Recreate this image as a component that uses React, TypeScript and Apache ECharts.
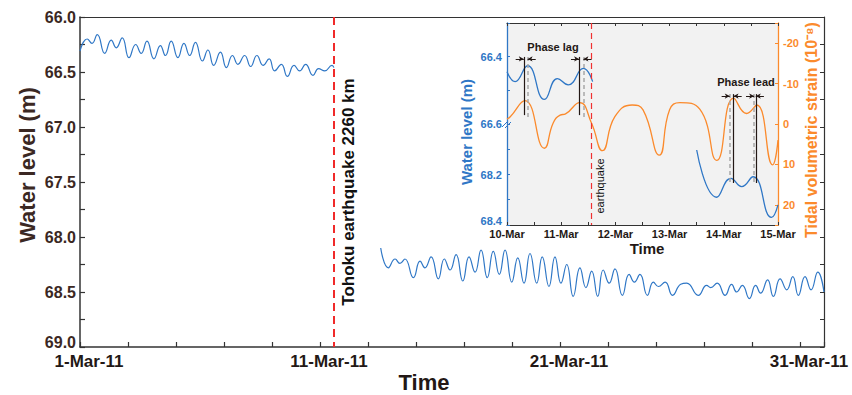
import React, { useEffect, useRef } from 'react';
import * as echarts from 'echarts';

// ---------- data (days since 1-Mar-2011 00:00) ----------
const EQ_DAY = 10.56; // Tohoku earthquake (local time)

const MAIN_LABEL_DAYS = [0, 10, 20, 30];
const MAIN_LABELS = ['1-Mar-11', '11-Mar-11', '21-Mar-11', '31-Mar-11'];
const MAIN_Y_LABELS = [66.0, 66.5, 67.0, 67.5, 68.0, 68.5, 69.0];

const INSET_LABEL_DAYS = [9, 10, 11, 12, 13, 14];
const INSET_LABELS = ['10-Mar', '11-Mar', '12-Mar', '13-Mar', '14-Mar', '15-Mar'];
const INSET_UPPER_LABELS = [66.4, 66.6];
const INSET_LOWER_LABELS = [68.2, 68.4];

const PRE_T = [0.0, 0.3, 0.5, 0.72, 1.03, 1.3, 1.51, 1.76, 2.04, 2.32, 2.55, 2.79, 3.08, 3.35, 3.56, 3.8, 4.08, 4.33, 4.57, 4.81, 5.1, 5.33, 5.57, 5.85, 6.1, 6.35, 6.58, 6.86, 7.11, 7.37, 7.63, 7.88, 8.11, 8.39, 8.64, 8.92, 9.15, 9.4, 9.71, 9.94, 10.2, 10.5, 10.58];
const PRE_WL = [66.31, 66.2, 66.24, 66.16, 66.33, 66.21, 66.28, 66.19, 66.37, 66.25, 66.33, 66.22, 66.38, 66.26, 66.35, 66.22, 66.37, 66.24, 66.35, 66.23, 66.4, 66.3, 66.44, 66.32, 66.46, 66.35, 66.43, 66.35, 66.45, 66.35, 66.44, 66.38, 66.49, 66.43, 66.54, 66.44, 66.49, 66.43, 66.53, 66.47, 66.49, 66.44, 66.46];

const POST_T = [12.53, 12.85, 13.13, 13.33, 13.54, 13.89, 14.17, 14.37, 14.63, 14.93, 15.18, 15.42, 15.67, 15.95, 16.21, 16.46, 16.71, 16.97, 17.22, 17.47, 17.71, 17.99, 18.24, 18.5, 18.75, 19.03, 19.26, 19.54, 19.79, 20.04, 20.28, 20.55, 20.83, 21.08, 21.32, 21.57, 21.8, 22.05, 22.29, 22.6, 22.88, 23.1, 23.33, 23.64, 23.89, 24.1, 24.38, 24.69, 25.03, 25.28, 25.76, 26.11, 26.28, 26.55, 26.88, 27.15, 27.36, 27.6, 27.89, 28.15, 28.36, 28.65, 28.89, 29.17, 29.45, 29.7, 29.93, 30.21, 30.46, 30.74, 31.0];
const POST_WL = [68.1, 68.28, 68.2, 68.24, 68.2, 68.37, 68.22, 68.28, 68.18, 68.38, 68.2, 68.3, 68.16, 68.4, 68.18, 68.32, 68.12, 68.37, 68.13, 68.34, 68.12, 68.41, 68.19, 68.42, 68.15, 68.42, 68.18, 68.45, 68.18, 68.42, 68.25, 68.54, 68.28, 68.46, 68.31, 68.54, 68.3, 68.42, 68.29, 68.53, 68.34, 68.41, 68.34, 68.53, 68.41, 68.45, 68.41, 68.53, 68.43, 68.42, 68.53, 68.44, 68.46, 68.42, 68.53, 68.43, 68.5, 68.44, 68.56, 68.44, 68.51, 68.39, 68.54, 68.38, 68.48, 68.36, 68.53, 68.36, 68.48, 68.32, 68.5];

// inset
const STRAIN_T = [9.0, 9.06, 9.33, 9.69, 9.85, 9.98, 10.08, 10.34, 10.56, 10.76, 10.99, 11.31, 11.51, 11.81, 12.0, 12.19, 12.56, 12.87, 13.18, 13.42, 13.61, 13.9, 14.0];
const STRAIN = [-1.2, -1.8, -5.8, 6.0, -0.2, -2.2, -2.5, -5.3, -0.2, 6.6, -1.8, -4.7, -3.5, 7.7, -3.5, -5.3, -3.6, 9.0, -6.4, -2.6, -4.7, 10.1, 4.0];
const INSET_PRE_T = [9.0, 9.15, 9.38, 9.69, 9.93, 10.13, 10.41, 10.58];
const INSET_PRE_WL = [66.445, 66.474, 66.427, 66.527, 66.465, 66.484, 66.435, 66.474];
const INSET_POST_T = [12.5, 12.87, 13.13, 13.33, 13.54, 13.88, 14.0];
const INSET_POST_WL = [68.103, 68.29, 68.215, 68.248, 68.209, 68.37, 68.32];

// phase annotations (day, strain-axis span)
const LAG_STRAIN_PEAKS = [9.31, 10.33];
const LAG_WATER_PEAKS = [9.38, 10.41];
const LEAD_WATER_PEAKS = [13.11, 13.56];
const LEAD_STRAIN_PEAKS = [13.18, 13.59];

const FONT = "'Liberation Sans', Arial, sans-serif";
const BLUE = '#2f77c6';
const ORANGE = '#fb8a2c';
const DARK = '#231815';
const BROWN = '#3b2823';
const AXIS = '#333333';

const zip = (a: number[], b: number[]) => a.map((v, i) => [v, b[i]]);
const near = (v: number, arr: number[]) => arr.findIndex((a) => Math.abs(a - v) < 1e-6);

function vline(x: number, y1: number, y2: number, color: string, type: any, width: number) {
  return [
    { coord: [x, y1], symbol: 'none', lineStyle: { color, type, width } },
    { coord: [x, y2], symbol: 'none' },
  ];
}
function arrow(from: number, to: number, y: number) {
  return [
    { coord: [from, y], symbol: 'none', lineStyle: { color: DARK, type: 'solid', width: 1 } },
    { coord: [to, y], symbol: 'arrow', symbolSize: [4, 5] },
  ];
}

export default function App() {
  const ref = useRef<HTMLDivElement>(null);
  useEffect(() => {
    if (!ref.current) return;
    const chart = echarts.init(ref.current, undefined, { renderer: 'svg' });

    const annot: any[] = [];
    LAG_STRAIN_PEAKS.forEach((x, i) => {
      const w = LAG_WATER_PEAKS[i];
      annot.push(vline(x, -16.6, -2.2, DARK, 'solid', 1.2));
      annot.push(vline(w, -16.6, -1, '#a8a8a8', [4, 3], 1.5));
      annot.push(arrow(x - 0.15, x, -16.1));
      annot.push(arrow(w + 0.15, w, -16.1));
    });
    LEAD_STRAIN_PEAKS.forEach((x, i) => {
      const w = LEAD_WATER_PEAKS[i];
      annot.push(vline(x, -7.4, 14.6, DARK, 'solid', 1.2));
      annot.push(vline(w, -7.4, 15.1, '#a8a8a8', [4, 3], 1.5));
      annot.push(arrow(w - 0.15, w, -6.9));
      annot.push(arrow(x + 0.15, x, -6.9));
    });

    const lineCommon = { type: 'line', smooth: 0.5, symbol: 'none', showSymbol: false, silent: true };
    const txt = (text: string, x: number, y: number, size: number, color: string, bold = true, rot = 0) => ({
      type: 'text', x, y, rotation: rot, silent: true,
      style: { text, fill: color, fontSize: size, fontWeight: bold ? 'bold' : 'normal', fontFamily: FONT, align: 'center', verticalAlign: 'middle' },
    });
    const labelBase = { fontWeight: 'bold', fontFamily: FONT };

    chart.setOption({
      animation: false,
      backgroundColor: '#ffffff',
      grid: [
        { left: 80, top: 17, width: 744, height: 330 },
        { left: 507, top: 23, width: 271, height: 202, show: true, backgroundColor: '#f2f2f2', borderWidth: 0 },
        { left: 507, top: 23, width: 271, height: 101 },
        { left: 507, top: 124, width: 271, height: 101 },
      ],
      xAxis: [
        {
          gridIndex: 0, type: 'value', min: 0, max: 31, interval: 2,
          axisLine: { onZero: false, lineStyle: { color: AXIS, width: 1.5 } },
          axisTick: { inside: true, length: 5, lineStyle: { color: AXIS, width: 1.2 } },
          axisLabel: {
            formatter: (v: number) => { const i = near(v, MAIN_LABEL_DAYS); return i >= 0 ? MAIN_LABELS[i] : ''; },
            color: DARK, fontSize: 17, ...labelBase, margin: 6, padding: [0, 0, 0, 18],
          },
          splitLine: { show: false },
        },
        {
          gridIndex: 0, type: 'value', position: 'top', min: 0, max: 31,
          axisLine: { show: true, onZero: false, lineStyle: { color: AXIS, width: 1.2 } },
          axisTick: { show: false }, axisLabel: { show: false }, splitLine: { show: false },
        },
        {
          gridIndex: 1, type: 'value', min: 9, max: 14, interval: 0.5,
          axisLine: { onZero: false, lineStyle: { color: AXIS, width: 1.2 } },
          axisTick: { inside: true, length: 3, lineStyle: { color: AXIS } },
          axisLabel: {
            formatter: (v: number) => { const i = near(v, INSET_LABEL_DAYS); return i >= 0 ? INSET_LABELS[i] : ''; },
            color: DARK, fontSize: 11, ...labelBase, margin: 3,
          },
          splitLine: { show: false },
        },
        {
          gridIndex: 1, type: 'value', position: 'top', min: 9, max: 14, interval: 0.5,
          axisLine: { show: true, onZero: false, lineStyle: { color: AXIS, width: 1.2 } },
          axisTick: { inside: true, length: 3, lineStyle: { color: AXIS } },
          axisLabel: { show: false }, splitLine: { show: false },
        },
        { gridIndex: 2, type: 'value', min: 9, max: 14, show: false, axisLine: { onZero: false } },
        { gridIndex: 3, type: 'value', min: 9, max: 14, show: false, axisLine: { onZero: false } },
      ],
      yAxis: [
        {
          gridIndex: 0, type: 'value', inverse: true, min: 66, max: 69, interval: 0.25,
          axisLine: { show: true, onZero: false, lineStyle: { color: AXIS, width: 1.5 } },
          axisTick: { show: true, inside: true, length: 5, lineStyle: { color: AXIS, width: 1.2 } },
          axisLabel: {
            formatter: (v: number) => {
              if (near(v, MAIN_Y_LABELS) < 0) return '';
              return Math.abs(v - 69) < 1e-6 ? `{up|${v.toFixed(1)}}` : v.toFixed(1);
            },
            color: BROWN, fontSize: 16, ...labelBase, margin: 4,
            rich: { up: { color: BROWN, fontSize: 16, ...labelBase, padding: [0, 0, 10, 0] } },
          },
          splitLine: { show: false },
        },
        {
          gridIndex: 0, type: 'value', position: 'right', inverse: true, min: 66, max: 69, interval: 0.25,
          axisLine: { show: true, onZero: false, lineStyle: { color: AXIS, width: 1.2 } },
          axisTick: { show: true, inside: true, length: 4, lineStyle: { color: AXIS } },
          axisLabel: { show: false }, splitLine: { show: false },
        },
        {
          gridIndex: 1, type: 'value', position: 'right', inverse: true, min: -25, max: 25,
          axisLine: { show: true, onZero: false, lineStyle: { color: ORANGE, width: 1.3 } },
          axisTick: { show: true, inside: true, length: 3, lineStyle: { color: ORANGE } },
          axisLabel: {
            formatter: (v: number) => (Math.abs(v % 10) < 1e-6 ? String(v) : ''),
            color: ORANGE, fontSize: 11, ...labelBase, margin: 5,
          },
          splitLine: { show: false },
        },
        {
          gridIndex: 2, type: 'value', position: 'left', inverse: true, min: 66.3, max: 66.6, interval: 0.1,
          axisLine: { show: true, onZero: false, lineStyle: { color: BLUE, width: 1.3 } },
          axisTick: { show: true, inside: true, length: 3, lineStyle: { color: BLUE } },
          axisLabel: {
            formatter: (v: number) => (near(v, INSET_UPPER_LABELS) >= 0 ? v.toFixed(1) : ''),
            color: BLUE, fontSize: 11, ...labelBase, margin: 5,
          },
          splitLine: { show: false },
        },
        {
          gridIndex: 3, type: 'value', position: 'left', inverse: true, min: 68.0, max: 68.4, interval: 0.1,
          axisLine: { show: true, onZero: false, lineStyle: { color: BLUE, width: 1.3 } },
          axisTick: { show: true, inside: true, length: 3, lineStyle: { color: BLUE } },
          axisLabel: {
            formatter: (v: number) => {
              if (near(v, INSET_LOWER_LABELS) < 0) return '';
              return Math.abs(v - 68.4) < 1e-6 ? `{up|${v.toFixed(1)}}` : v.toFixed(1);
            },
            color: BLUE, fontSize: 11, ...labelBase, margin: 5,
            rich: { up: { color: BLUE, fontSize: 11, ...labelBase, padding: [0, 0, 8, 0] } },
          },
          splitLine: { show: false },
        },
      ],
      series: [
        {
          ...lineCommon, xAxisIndex: 0, yAxisIndex: 0, data: zip(PRE_T, PRE_WL),
          lineStyle: { color: BLUE, width: 1.2 },
          markLine: {
            silent: true, symbol: ['none', 'none'], label: { show: false },
            lineStyle: { color: '#f02a2a', type: [8, 5], width: 2 },
            data: [{ xAxis: EQ_DAY }],
          },
        },
        { ...lineCommon, xAxisIndex: 0, yAxisIndex: 0, data: zip(POST_T, POST_WL), lineStyle: { color: BLUE, width: 1.2 } },
        {
          ...lineCommon, xAxisIndex: 2, yAxisIndex: 2, data: zip(STRAIN_T, STRAIN),
          lineStyle: { color: ORANGE, width: 1.3 },
          markLine: {
            silent: true, symbol: ['none', 'none'], label: { show: false },
            data: [
              [
                { coord: [EQ_DAY, -25], symbol: 'none', lineStyle: { color: '#f03030', type: [6, 4], width: 1.2 } },
                { coord: [EQ_DAY, 25], symbol: 'none' },
              ],
              ...annot,
            ],
          },
        },
        { ...lineCommon, xAxisIndex: 4, yAxisIndex: 3, data: zip(INSET_PRE_T, INSET_PRE_WL), lineStyle: { color: BLUE, width: 1.3 } },
        { ...lineCommon, xAxisIndex: 5, yAxisIndex: 4, data: zip(INSET_POST_T, INSET_POST_WL), lineStyle: { color: BLUE, width: 1.3 } },
      ],
      graphic: [
        txt('Water level (m)', 27, 165, 22, BROWN, true, Math.PI / 2),
        txt('Time', 424, 382, 22, DARK),
        txt('Tohoku earthquake 2260 km', 348, 192, 17, '#111111', true, Math.PI / 2),
        txt('Time', 647, 248, 15, DARK),
        txt('Water level (m)', 466, 132, 15, BLUE, true, Math.PI / 2),
        txt('Tidal volumetric strain (10\u207B\u2078)', 811, 130, 16, ORANGE, true, Math.PI / 2),
        txt('earthquake', 600, 186, 11, '#111111', false, Math.PI / 2),
        txt('Phase lag', 553, 47, 11, DARK),
        txt('Phase lead', 746, 82, 11, DARK),
        { type: 'line', silent: true, shape: { x1: 502, y1: 127, x2: 508, y2: 121 }, style: { stroke: BLUE, lineWidth: 1 } },
        { type: 'line', silent: true, shape: { x1: 505, y1: 128, x2: 511, y2: 122 }, style: { stroke: BLUE, lineWidth: 1 } },
      ],
    });
    return () => chart.dispose();
  }, []);
  return <div ref={ref} style={{ position: 'fixed', left: 0, top: 0, width: 852, height: 395 }} />;
}
